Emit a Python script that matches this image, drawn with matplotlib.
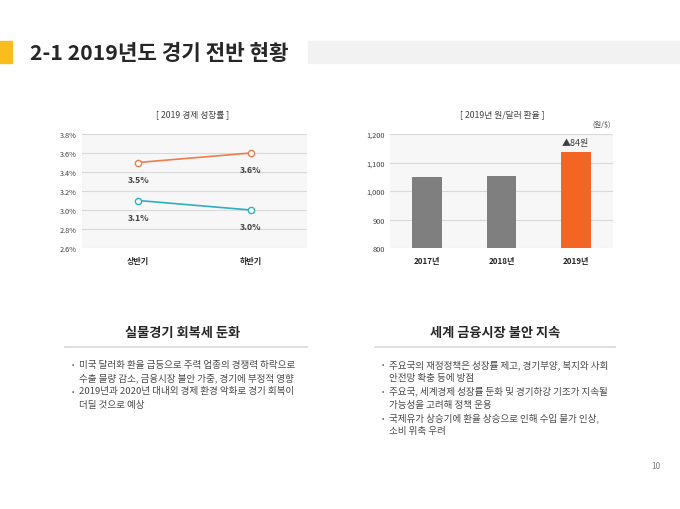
import matplotlib.pyplot as plt
from matplotlib.patches import Rectangle

plt.rcParams['font.family'] = ['Noto Sans CJK KR', 'DejaVu Sans']

W, H = 680, 510

# growth chart data
halves = ['상반기', '하반기']
growth_orange = [3.5, 3.6]
growth_teal = [3.1, 3.0]
growth_ticks = [2.6, 2.8, 3.0, 3.2, 3.4, 3.6, 3.8]

# exchange rate data
years = ['2017년', '2018년', '2019년']
rates = [1048, 1052, 1136]
rate_ticks = [800, 900, 1000, 1100, 1200]

left_title = '실물경기 회복세 둔화'
left_lines = [
    ('•', '미국 달러화 환율 급등으로 주력 업종의 경쟁력 하락으로'),
    ('', '수출 물량 감소, 금융시장 불안 가중, 경기에 부정적 영향'),
    ('•', '2019년과 2020년 대내외 경제 환경 악화로 경기 회복이'),
    ('', '더딜 것으로 예상'),
]
right_title = '세계 금융시장 불안 지속'
right_lines = [
    ('•', '주요국의 재정정책은 성장률 제고, 경기부양, 복지와 사회'),
    ('', '안전망 확충 등에 방점'),
    ('•', '주요국, 세계경제 성장률 둔화 및 경기하강 기조가 지속될'),
    ('', '가능성을 고려해 정책 운용'),
    ('•', '국제유가 상승기에 환율 상승으로 인해 수입 물가 인상,'),
    ('', '소비 위축 우려'),
]


def fx(px):
    return px / W


def fy(py):
    return 1 - py / H


fig = plt.figure(figsize=(6.8, 5.1), dpi=100)

# header
fig.patches.append(Rectangle((0, fy(64)), fx(12), 22 / H, transform=fig.transFigure,
                             color='#fbbc1e', zorder=1))
fig.patches.append(Rectangle((fx(308), fy(64)), fx(372), 22 / H, transform=fig.transFigure,
                             color='#f2f2f2', zorder=1))
fig.text(fx(30), fy(53), '2-1 2019년도 경기 전반 현황', fontsize=15.3, fontweight='bold',
         color='#262626', va='center', ha='left')


def style_axes(ax):
    ax.set_facecolor('#f7f7f7')
    for s in ax.spines.values():
        s.set_visible(False)
    ax.tick_params(length=0, labelsize=5.3, colors='#404040')
    ax.grid(axis='y', color='#d9d9d9', linewidth=0.8)
    ax.set_axisbelow(True)


# left chart
ax1 = fig.add_axes([fx(82), fy(249), fx(225), 114 / H])
style_axes(ax1)
xs = [0, 1]
ax1.plot(xs, growth_orange, color='#ed7d4f', linewidth=1.2, marker='o', markersize=4.5,
         markerfacecolor='white', markeredgecolor='#ed7d4f')
ax1.plot(xs, growth_teal, color='#2fb0c0', linewidth=1.2, marker='o', markersize=4.5,
         markerfacecolor='white', markeredgecolor='#2fb0c0')
for x, v in zip(xs, growth_orange):
    ax1.annotate(f'{v:.1f}%', (x, v), xytext=(0, -12), textcoords='offset points',
                 ha='center', va='center', fontsize=6.3, fontweight='bold', color='#404040')
for x, v in zip(xs, growth_teal):
    ax1.annotate(f'{v:.1f}%', (x, v), xytext=(0, -12), textcoords='offset points',
                 ha='center', va='center', fontsize=6.3, fontweight='bold', color='#404040')
ax1.set_xlim(-0.5, 1.5)
ax1.set_ylim(2.6, 3.8)
ax1.set_yticks(growth_ticks)
ax1.set_yticklabels([f'{t:.1f}%' for t in growth_ticks])
ax1.set_xticks(xs)
ax1.set_xticklabels(halves, fontsize=5.8, fontweight='bold', color='#262626')
ax1.tick_params(axis='x', pad=6)
fig.text(fx(193), fy(115), '[ 2019 경제 성장률 ]', fontsize=6.3, ha='center', va='center',
         color='#404040')

# right chart
ax2 = fig.add_axes([fx(390), fy(249), fx(223), 114 / H])
style_axes(ax2)
bx = range(len(years))
colors = ['#7f7f7f', '#7f7f7f', '#f26522']
ax2.bar(bx, rates, width=0.4, color=colors, zorder=2)
ax2.set_ylim(800, 1200)
ax2.set_xlim(-0.5, 2.5)
ax2.set_yticks(rate_ticks)
ax2.set_yticklabels([f'{t:,}' for t in rate_ticks])
ax2.set_xticks(list(bx))
ax2.set_xticklabels(years, fontsize=5.8, fontweight='bold', color='#262626')
ax2.tick_params(axis='x', pad=6)
ax2.annotate(f'▲{rates[2] - rates[1]}원', (2, rates[2]), xytext=(0, 7), textcoords='offset points',
             ha='center', va='center', fontsize=6.5, color='#404040')
fig.text(fx(502), fy(115), '[ 2019년 원/달러 환율 ]', fontsize=6.3, ha='center', va='center',
         color='#404040')
fig.text(fx(602), fy(125), '(원/$)', fontsize=5.3, ha='center', va='center', color='#404040')


def text_block(cx, x0, x1, title, lines):
    fig.text(fx(cx), fy(333), title, fontsize=9.5, fontweight='bold', ha='center',
             va='center', color='#262626')
    fig.add_artist(plt.Line2D([fx(x0), fx(x1)], [fy(348), fy(348)], color='#d9d9d9',
                              linewidth=1.2))
    for i, (b, t) in enumerate(lines):
        y = fy(365 + i * 13.4)
        if b:
            fig.text(fx(x0 + 8), y, b, fontsize=5, ha='center', va='center', color='#595959')
        fig.text(fx(x0 + 14), y, t, fontsize=6.9, ha='left', va='center', color='#4a4a4a')


text_block(183, 65, 307, left_title, left_lines)
text_block(495, 375, 615, right_title, right_lines)

fig.text(fx(656), fy(467), '10', fontsize=6, ha='center', va='center', color='#7f7f7f')

fig.savefig('out.png', dpi=100)
